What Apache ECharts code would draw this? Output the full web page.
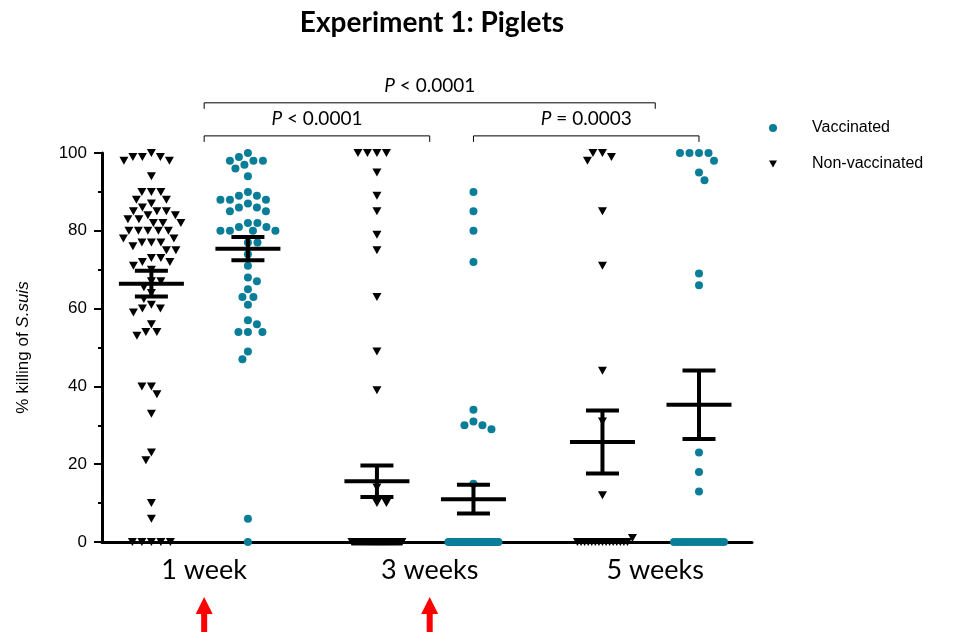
<!DOCTYPE html>
<html>
<head>
<meta charset="utf-8">
<script src="https://cdn.jsdelivr.net/npm/echarts@6/dist/echarts.min.js"></script>
<style>html,body{margin:0;padding:0;background:#fff}#main{width:975px;height:632px}</style>
</head>
<body>
<div id="main"></div>
<script>
// ---------------- data ----------------
const groups = ['1 week', '3 weeks', '5 weeks'];
const seriesNames = ['Vaccinated', 'Non-vaccinated'];

const nonVac1wk = [100, 99, 98, 98, 99, 99, 94, 90, 90, 90, 88, 88, 87, 86, 85, 85, 85, 84, 84, 83, 83,
  82, 82, 82, 80, 80, 80, 80, 80, 78, 78, 77, 77, 77, 76, 75, 75, 73, 73, 72, 72, 71, 70, 67, 67,
  65.5, 64, 62.5, 61, 60, 60, 59, 56, 54, 54, 53, 40, 40, 38, 33, 23, 21, 10, 6, 0, 0, 0, 0, 0];
const vac1wk = [100, 99, 98, 98, 98, 97, 96, 94, 90, 89, 89, 88, 88, 88, 87, 86, 86, 85, 85, 82, 82,
  81, 81, 80, 80, 80, 80, 77, 77, 74, 71, 68, 67, 65, 63, 63, 61, 57, 56, 54, 54, 54, 49, 47, 6, 0];
const nonVac3wk = [100, 100, 100, 100, 95, 89, 85, 79, 75, 63, 49, 39, 14, 10, 10,
  0, 0, 0, 0, 0, 0, 0, 0, 0, 0, 0, 0, 0, 0, 0, 0, 0, 0, 0, 0, 0, 0, 0, 0, 0,
  0, 0, 0, 0, 0, 0, 0, 0, 0, 0, 0, 0, 0, 0, 0, 0, 0, 0, 0, 0, 0, 0, 0, 0, 0];
const vac3wk = [90, 85, 80, 72, 34, 31, 30, 30, 29, 15,
  0, 0, 0, 0, 0, 0, 0, 0, 0, 0, 0, 0, 0, 0, 0, 0, 0, 0, 0, 0, 0, 0, 0, 0, 0,
  0, 0, 0, 0, 0, 0, 0, 0, 0, 0];
const nonVac5wk = [100, 100, 99, 98, 85, 71, 44, 31, 12, 1,
  0, 0, 0, 0, 0, 0, 0, 0, 0, 0, 0, 0, 0, 0, 0];
const vac5wk = [100, 100, 100, 100, 98, 95, 93, 69, 66, 23, 18, 13,
  0, 0, 0, 0, 0, 0, 0, 0, 0, 0, 0, 0, 0, 0, 0, 0];

// mean and SEM as drawn in the reference
const meanNonVac = [66.4, 15.6, 25.7];
const semNonVac = [3.3, 4.05, 8.1];
const meanVac = [75.4, 11.0, 35.3];
const semVac = [3.0, 3.7, 8.8];

// significance annotations
const pLabels = ['P < 0.0001', 'P < 0.0001', 'P = 0.0003'];
// weeks at which the vaccine was given (red arrows)
const vaccinationGroups = ['1 week', '3 weeks'];

// ---------------- layout constants ----------------
const xMin = 0.567, xMax = 3.449;
const pairOffset = 0.214;   // column offset from group centre
const labelShift = 0.02;    // label / annotation anchor shift
const TEAL = '#0a7e99';
const TRI = 'path://M0,0L10,0L5,9Z';

const chart = echarts.init(document.getElementById('main'), null, {renderer: 'canvas'});

const baseOption = {
  animation: false,
  backgroundColor: '#fff',
  title: {
    text: 'Experiment 1: Piglets', left: 432, top: 9, textAlign: 'center', padding: 0,
    textStyle: {fontFamily: 'Lato', fontWeight: 'bold', fontSize: 28, color: '#000'}
  },
  legend: {
    orient: 'vertical', left: 769, top: 120, padding: 0, itemGap: 20,
    itemWidth: 8, itemHeight: 8, selectedMode: false,
    textStyle: {fontFamily: 'Liberation Sans', fontSize: 16, color: '#000', padding: [0, 0, 0, 30]},
    data: [
      {name: seriesNames[0], icon: 'circle'},
      {name: seriesNames[1], icon: TRI}
    ]
  },
  grid: {left: 102, right: 223, top: 153, bottom: 90, containLabel: false},
  xAxis: {
    type: 'value', min: xMin, max: xMax,
    axisLine: {show: true, onZero: false, lineStyle: {color: '#000', width: 3}},
    axisTick: {show: false},
    splitLine: {show: false},
    axisLabel: {
      customValues: groups.map((g, i) => i + 1 + labelShift),
      formatter: v => groups[Math.round(v) - 1] || '',
      color: '#000', fontFamily: 'Lato', fontSize: 27, margin: 15
    }
  },
  yAxis: {
    type: 'value', min: 0, max: 100, interval: 20,
    axisLine: {show: true, lineStyle: {color: '#000', width: 3}},
    axisTick: {show: true, length: 8, lineStyle: {color: '#000', width: 2}},
    minorTick: {show: true, splitNumber: 2, length: 4, lineStyle: {color: '#000', width: 2}},
    splitLine: {show: false},
    axisLabel: {color: '#000', fontFamily: 'Liberation Sans', fontSize: 17, margin: 15},
    name: '% killing of {i|S.suis}', nameLocation: 'middle', nameGap: 70, nameRotate: 90,
    nameTextStyle: {
      color: '#000', fontFamily: 'Liberation Sans', fontSize: 17,
      rich: {i: {fontStyle: 'italic', fontFamily: 'Liberation Sans', fontSize: 17, color: '#000'}}
    }
  },
  series: []
};
chart.setOption(baseOption);

// pixel scales from the library's axes
const sx = chart.convertToPixel({xAxisIndex: 0}, 2) - chart.convertToPixel({xAxisIndex: 0}, 1);
const sy = chart.convertToPixel({yAxisIndex: 0}, 0) - chart.convertToPixel({yAxisIndex: 0}, 1);

// beeswarm layout (pixel space) -> offsets in x units
function swarm(values, D) {
  const W = 29, Wtie = 25;
  const n = values.length;
  const offs = new Array(n).fill(null);
  const placed = [];
  const counts = {};
  values.forEach(v => { counts[v] = (counts[v] || 0) + 1; });
  Object.keys(counts).forEach(k => {
    const c = counts[k];
    if ((c - 1) * D > 2 * W) {
      const idx = [];
      values.forEach((v, i) => { if (String(v) === k) idx.push(i); });
      idx.forEach((i, j) => {
        const x = -Wtie + 2 * Wtie * j / (c - 1);
        offs[i] = x; placed.push({x, y: values[i] * sy});
      });
    }
  });
  const order = values.map((v, i) => i).filter(i => offs[i] === null)
    .sort((a, b) => values[b] - values[a]);
  let flip = 1;
  order.forEach(i => {
    const y = values[i] * sy;
    let best = 0, bestScore = -1, found = false;
    for (let m = 0; m <= W + 1 && !found; m += 0.5) {
      const cands = m === 0 ? [0] : [m * flip, -m * flip];
      for (const x of cands) {
        let minD = Infinity;
        for (const p of placed) {
          const d = Math.hypot(p.x - x, p.y - y);
          if (d < minD) minD = d;
        }
        if (minD >= D) { best = x; found = true; break; }
        if (minD > bestScore + 1e-9 || (Math.abs(minD - bestScore) < 1e-9 && x > best)) {
          bestScore = minD; best = x;
        }
      }
    }
    offs[i] = best; placed.push({x: best, y}); flip = -flip;
  });
  return offs.map(o => o / sx);
}

function columnData(values, centre, D) {
  const offs = swarm(values, D);
  return values.map((v, i) => [centre + offs[i], v]);
}

const nonVacCols = [nonVac1wk, nonVac3wk, nonVac5wk];
const vacCols = [vac1wk, vac3wk, vac5wk];
let nonVacData = [], vacData = [];
groups.forEach((g, gi) => {
  nonVacData = nonVacData.concat(columnData(nonVacCols[gi], gi + 1 - pairOffset, 9.5));
  vacData = vacData.concat(columnData(vacCols[gi], gi + 1 + pairOffset, 9.5));
});

const meanData = [];
groups.forEach((g, gi) => {
  meanData.push([gi + 1 - pairOffset, meanNonVac[gi], semNonVac[gi]]);
  meanData.push([gi + 1 + pairOffset, meanVac[gi], semVac[gi]]);
});

// brackets: [x1, x2, level index, label index]
const groupAnchor = gi => gi + 1 + labelShift;
const vacAnchor = gi => gi + 1 + pairOffset;
const bracketData = [
  [groupAnchor(0), groupAnchor(2), 1, 0],
  [groupAnchor(0), groupAnchor(1), 0, 1],
  [vacAnchor(1), vacAnchor(2), 0, 2]
];
const bracketLevels = [104.4, 112.9];

const arrowData = vaccinationGroups.map(g => [groupAnchor(groups.indexOf(g))]);

const lineStyle = {stroke: '#000', lineWidth: 4};

chart.setOption({
  series: [
    {
      name: seriesNames[1], type: 'scatter', symbol: TRI, symbolSize: [9, 8],
      itemStyle: {color: '#000', opacity: 1}, data: nonVacData, clip: false, z: 3,
      emphasis: {disabled: true}
    },
    {
      name: seriesNames[0], type: 'scatter', symbol: 'circle', symbolSize: 8,
      itemStyle: {color: TEAL, opacity: 1}, data: vacData, clip: false, z: 3,
      emphasis: {disabled: true}
    },
    {
      name: 'mean ± SEM', type: 'custom', clip: false, z: 5, silent: true,
      data: meanData,
      renderItem(params, api) {
        const x = api.value(0), m = api.value(1), s = api.value(2);
        const c = api.coord([x, m]), t = api.coord([x, m + s]), b = api.coord([x, m - s]);
        return {type: 'group', children: [
          {type: 'line', shape: {x1: c[0] - 32.5, y1: c[1], x2: c[0] + 32.5, y2: c[1]}, style: lineStyle},
          {type: 'line', shape: {x1: c[0], y1: t[1], x2: c[0], y2: b[1]}, style: lineStyle},
          {type: 'line', shape: {x1: c[0] - 16.5, y1: t[1], x2: c[0] + 16.5, y2: t[1]}, style: lineStyle},
          {type: 'line', shape: {x1: c[0] - 16.5, y1: b[1], x2: c[0] + 16.5, y2: b[1]}, style: lineStyle}
        ]};
      }
    },
    {
      name: 'significance', type: 'custom', clip: false, z: 5, silent: true,
      data: bracketData,
      renderItem(params, api) {
        const x1 = api.value(0), x2 = api.value(1);
        const lvl = bracketLevels[api.value(2)];
        const label = pLabels[api.value(3)];
        const a = api.coord([x1, lvl]), b = api.coord([x2, lvl]);
        const st = {stroke: '#000', lineWidth: 1, fill: 'none'};
        const txt = label.replace(/^P/, '{i|P}');
        return {type: 'group', children: [
          {type: 'polyline', shape: {points: [[a[0], a[1] + 6], [a[0], a[1]], [b[0], b[1]], [b[0], b[1] + 6]]}, style: st},
          {type: 'text', x: (a[0] + b[0]) / 2, y: a[1] - 17, style: {
            text: txt, fill: '#000', fontFamily: 'Lato', fontSize: 19, align: 'center', verticalAlign: 'middle',
            rich: {i: {fontStyle: 'italic', fontFamily: 'Lato', fontSize: 19, fill: '#000'}}
          }}
        ]};
      }
    },
    {
      name: 'vaccination', type: 'custom', clip: false, z: 5, silent: true,
      data: arrowData,
      renderItem(params, api) {
        const p = api.coord([api.value(0), 0]);
        const x = p[0], y = p[1];
        return {type: 'polygon', shape: {points: [
          [x, y + 55], [x + 8.5, y + 72], [x + 3, y + 72], [x + 3, y + 95],
          [x - 3, y + 95], [x - 3, y + 72], [x - 8.5, y + 72]
        ]}, style: {fill: '#ff0000'}};
      }
    }
  ]
});
</script>
</body>
</html>
